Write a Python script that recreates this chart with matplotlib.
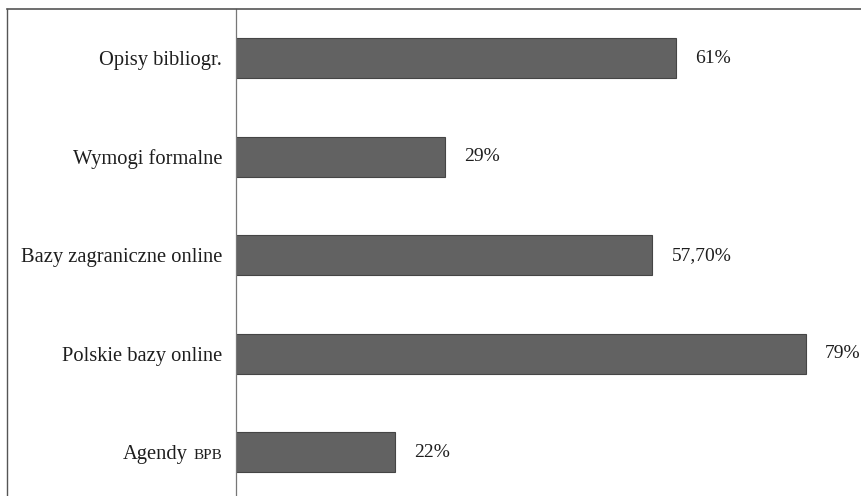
import matplotlib.pyplot as plt
from matplotlib.lines import Line2D

categories = ["Opisy bibliogr.", "Wymogi formalne", "Bazy zagraniczne online",
              "Polskie bazy online", "Agendy BPB"]
values = [61, 29, 57.7, 79, 22]
value_labels = ["61%", "29%", "57,70%", "79%", "22%"]

W, H = 862, 496
fig = plt.figure(figsize=(W / 100, H / 100), dpi=100)
plt.rcParams['font.family'] = ['Liberation Serif', 'DejaVu Serif']
TXT = "#1e1e1e"

# plot area: left spine at x=236 px, rows 98.5 px apart starting 9 px from top
left = 236 / W
top = 1 - 9 / H
height = 5 * 98.5 / H
ax = fig.add_axes([left, top - height, 1 - left, height])

pos = list(range(len(categories)))
ax.barh(pos, values, height=0.41, color="#626262", edgecolor="#454545", linewidth=0.8)
ax.set_ylim(len(categories) - 0.5, -0.5)
ax.set_xlim(0, (W - 237) / 7.2)

for p, v, lab in zip(pos, values, value_labels):
    ax.annotate(lab, xy=(v, p), xytext=(14, 0), textcoords="offset points",
                ha="left", va="center", fontsize=14, color=TXT)

ax.set_yticks(pos)
ticklabels = categories[:-1] + [""]
ax.set_yticklabels(ticklabels, fontsize=14.8, color=TXT)
ax.tick_params(axis="y", length=0, pad=10)
ax.set_xticks([])
for s in ["top", "right", "bottom"]:
    ax.spines[s].set_visible(False)
ax.spines["left"].set_color("#777777")
ax.spines["left"].set_linewidth(0.9)

# "Agendy BPB" with the abbreviation in small capitals, sharing one baseline
base = ax.annotate("Agendy", xy=(0, 4), xytext=(-10, 0), textcoords="offset points",
                   ha="right", va="center", fontsize=14.8, color=TXT)
fig.canvas.draw()
bb = base.get_window_extent()
base.remove()
baseline_y = 4
bpb = ax.annotate("BPB", xy=(0, baseline_y), xytext=(-10, -5), textcoords="offset points",
                  ha="right", va="baseline", fontsize=11, color=TXT)
fig.canvas.draw()
w_bpb = bpb.get_window_extent().width * 72 / fig.dpi
ax.annotate("Agendy", xy=(0, baseline_y), xytext=(-10 - w_bpb - 4, -5),
            textcoords="offset points", ha="right", va="baseline",
            fontsize=14.8, color=TXT)

# outer chart frame (top and left edges)
fig.add_artist(Line2D([7 / W, 1], [top, top], transform=fig.transFigure,
                      color="#555555", linewidth=1.2))
fig.add_artist(Line2D([7 / W, 7 / W], [0, top], transform=fig.transFigure,
                      color="#555555", linewidth=1.0))

fig.savefig("out.png", dpi=100)
